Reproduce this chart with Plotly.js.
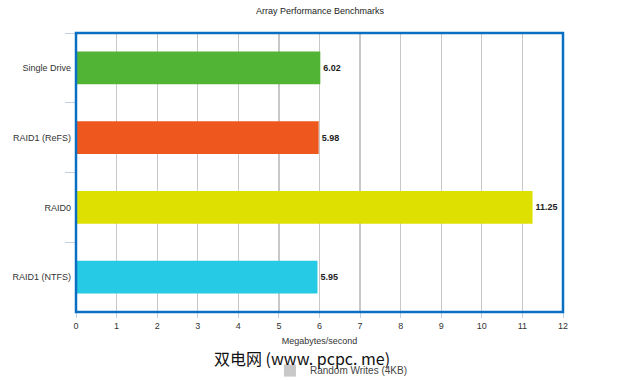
<!DOCTYPE html>
<html><head><meta charset="utf-8">
<script src="https://cdn.plot.ly/plotly-3.0.1.min.js"></script>
<style>html,body{margin:0;padding:0;background:#fff;}#chart{width:640px;height:381px;}</style>
</head><body><div id="chart"></div>
<script>
const categories = ["Single Drive", "RAID1 (ReFS)", "RAID0", "RAID1 (NTFS)"];
const values = [6.02, 5.98, 11.25, 5.95];
const barColors = ["#52B434", "#EE571E", "#DDE000", "#26CAE4"];
const seriesName = "Random Writes (4KB)";
const xTicks = [0,1,2,3,4,5,6,7,8,9,10,11,12];

const traces = [
  {
    type: "bar", orientation: "h",
    y: categories, x: values,
    marker: {color: barColors},
    width: 0.47,
    text: values.map(v => "<b>" + v.toFixed(2) + "</b>"),
    textposition: "outside",
    textfont: {family: "Liberation Sans, Arial", size: 9, color: "#222"},
    cliponaxis: false,
    showlegend: false,
    hoverinfo: "skip"
  },
  {
    type: "bar", orientation: "h",
    y: [categories[0]], x: [null],
    name: seriesName,
    marker: {color: "#C8C8C8"},
    showlegend: true
  }
];

const layout = {
  width: 640, height: 381,
  margin: {l: 76, r: 77, t: 33, b: 69, autoexpand: false},
  paper_bgcolor: "#fff", plot_bgcolor: "#fff",
  font: {family: "Liberation Sans, Arial", size: 9, color: "#333"},
  title: {text: "Array Performance Benchmarks", x: 0.5, xanchor: "center", y: 0.972, yanchor: "middle",
          font: {size: 9, color: "#222"}},
  barmode: "overlay",
  xaxis: {
    range: [0, 12], tickvals: xTicks, ticktext: xTicks.map(String),
    showgrid: true, gridcolor: "#C8C8C8", gridwidth: 1.2,
    zeroline: false, showline: false,
    ticks: "outside", ticklen: 5, tickcolor: "#C0D0E0",
    tickfont: {size: 9, color: "#333"},
    title: {text: "Megabytes/second", font: {size: 9, color: "#333"}, standoff: 7},
    automargin: false,
    fixedrange: true
  },
  yaxis: {
    autorange: "reversed",
    showgrid: false, zeroline: false, showline: false,
    ticks: "outside", ticklen: 10, tickcolor: "#C0D0E0",
    tickson: "boundaries",
    tickfont: {size: 9, color: "#333"},
    ticklabelstandoff: 4,
    automargin: false,
    fixedrange: true
  },
  shapes: [
    {type: "rect", xref: "paper", yref: "paper", x0: 0, x1: 1, y0: 0, y1: 1,
     line: {color: "#0A6FC2", width: 2.5}, fillcolor: "rgba(0,0,0,0)", layer: "above"}
  ],
  legend: {orientation: "h", x: 0.545, xanchor: "center", y: -0.158, yanchor: "top",
           font: {size: 10, color: "#444"}, bgcolor: "rgba(0,0,0,0)"},
  annotations: [
    {text: "双电网 (www. pcpc. me)", xref: "paper", yref: "paper", x: 0.465, y: -0.118,
     xanchor: "center", yanchor: "top", showarrow: false, borderpad: 0,
     font: {family: "Noto Sans CJK SC", size: 16, color: "#111"}}
  ]
};

Plotly.newPlot("chart", traces, layout, {displayModeBar: false, staticPlot: true});
</script></body></html>
